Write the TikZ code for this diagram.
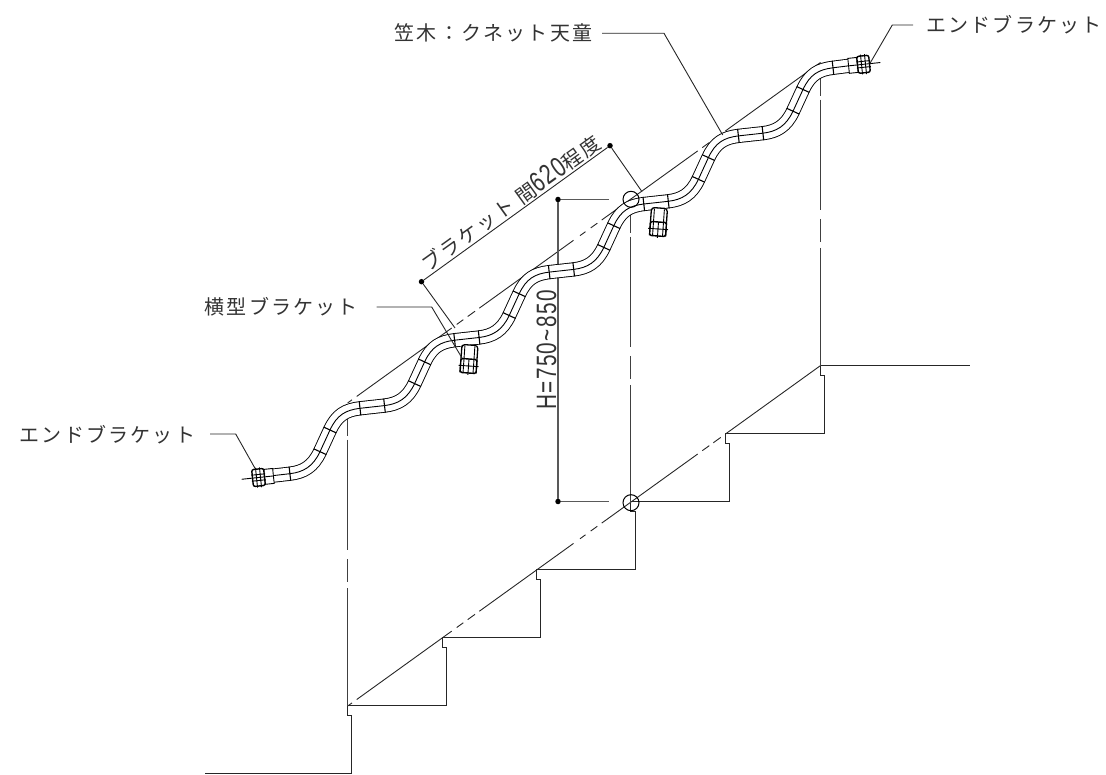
\documentclass[tikz,border=0pt]{standalone}
\usepackage{fontspec}
\setmainfont[LetterSpace=11]{Noto Sans CJK JP}
\newfontfamily\latnarrow[FakeStretch=0.74,LetterSpace=5]{Liberation Sans}
\newcommand{\nar}[1]{{\fontsize{28}{28}\selectfont\latnarrow #1}}
\newcommand{\Pq}[2]{({265.4+94.6*\i+#1},{476.4-68.1*\i+#2})}
\tikzset{
  edge line/.style={line width=1.2pt,black!85,line join=miter},
  thin line/.style={line width=0.9pt,black!85},
  dim line/.style={line width=1.1pt,black!65},
  lab/.style={font=\fontsize{20}{20}\selectfont,inner sep=0pt,black!80},
  dimdot/.style={circle,fill=black,inner sep=0pt,minimum size=5.5pt},
  ring/.style={circle,draw=black,line width=1pt,inner sep=0pt,minimum size=16pt},
  endbkt/.pic={
    \draw[line width=0.9pt,fill=white] (6,-7.5) rectangle (15,7.5);
    \draw[line width=1.4pt,rounded corners=2pt,fill=white] (-6,-8.5) rectangle (6,8.5);
    \draw[line width=0.9pt] (-2,-10) -- (-2,10) (2,-10) -- (2,10) (-7,-3) -- (7,-3) (-7,3) -- (7,3);
    \draw[line width=0.9pt] (-17,0) -- (15,0);
  },
  hanger/.pic={
    \draw[line width=1.3pt,rounded corners=3pt,fill=white] (-8,14) -- (-8,-14) -- (8,-14) -- (8,14);
    \draw[line width=0.9pt] (-5,-13) -- (-5,14) (5,-13) -- (5,14);
    \draw[line width=1.4pt,rounded corners=1.5pt,fill=white] (-8,0) rectangle (8,14);
    \draw[line width=0.9pt] (0,0) -- (0,16) (-10,7) -- (10,7) (-5,0) -- (-5,14) (5,0) -- (5,14);
  }
}
\begin{document}
\begin{tikzpicture}[x=1pt,y=-1pt]
\useasboundingbox (0,0) rectangle (1106,775);
% stairs
\draw[edge line] (205,773.5) -- (351.5,773.5) -- (351.5,715.5) -- (347.5,715.5) -- (347.5,705.5)
  -- (446.5,705.5) -- (446.5,647.5) -- (442.5,647.5) -- (442.5,637.5)
  -- (540.5,637.5) -- (540.5,579.5) -- (536.5,579.5) -- (536.5,569.5)
  -- (635.5,569.5) -- (635.5,511.5) -- (630.5,511.5) -- (630.5,501.5)
  -- (729.5,501.5) -- (729.5,443.5) -- (725.5,443.5) -- (725.5,433.5)
  -- (824.5,433.5) -- (824.5,375.5) -- (820.5,375.5) -- (820.5,365.5) -- (970,365.5);
% nosing line and handrail line, broken by gaps
\foreach \a/\b in {347.7/352,356.7/451.7,456.7/463.3,467.7/475,479.3/573.5,580/585.5,590.7/597.3,601.7/697.7,702.3/709.3,713.3/720.7,725.3/820.5}{
  \draw[thin line] ({\a},{706-0.72*(\a-347.7)}) -- ({\b},{706-0.72*(\b-347.7)});
  \draw[thin line] ({\a},{402.9-0.72*(\a-347.7)}) -- ({\b},{402.9-0.72*(\b-347.7)});
}
% posts (chain lines)
\foreach \x/\o in {347.5/0,630.5/-203,820.5/-340}{
  \foreach \a/\b in {410/436,439.7/549.7,559/582,588/706}{
    \draw[line width=1pt,black!75] (\x,{\a+\o}) -- (\x,{\b+\o});
  }
}
% height dimension
\node[dimdot] (htop) at (558,199.5) {};
\node[dimdot] (hbot) at (558,501.5) {};
\coordinate (htopend) at (609,199.5);
\coordinate (hbotend) at (609,501.5);
\draw[dim line] (htopend) -- (htop) -- (hbot) -- (hbotend);
% rail
\foreach \w/\c in {14.2/black,12.4/white,0.9/black}{
  \draw[line width=\w pt,color=\c,line join=round] (262,476.9)
    foreach \i in {0,...,5}{
      -- \Pq{24.5}{-2.7} .. controls \Pq{38}{-4.3} and \Pq{47.6}{-9.7} .. \Pq{54.6}{-24.7}
      -- \Pq{64.6}{-46.4} .. controls \Pq{71.6}{-61.6} and \Pq{80.5}{-66.4} .. \Pq{94.6}{-68.1}
    } -- (855,65);
}
% rail cross ticks
\foreach \i in {0,...,5}{
  \draw[line width=1.1pt] \Pq{24.5-0.8}{-2.7-7} -- \Pq{24.5+0.8}{-2.7+7};
  \draw[line width=1.1pt] \Pq{54.6-6.3}{-24.7-2.9} -- \Pq{54.6+6.3}{-24.7+2.9};
  \draw[line width=1.1pt] \Pq{64.6-6.3}{-46.4-2.9} -- \Pq{64.6+6.3}{-46.4+2.9};
  \draw[line width=1.1pt] \Pq{94.6-0.8}{-68.1-7} -- \Pq{94.6+0.8}{-68.1+7};
}
% brackets
\pic at (258.5,477.5) [rotate=6] {endbkt};
\pic at (863.5,64.3) [rotate=6,xscale=-1] {endbkt};
\pic at (469,359) [rotate=-4] {hanger};
\pic at (658.5,222) [rotate=-4] {hanger};
% rings
\node[ring] (ringtop) at (631,199.3) {};
\node[ring] (ringbot) at (631,502.7) {};
% span dimension
\node[dimdot] (sa) at (421.5,281.7) {};
\node[dimdot] (sb) at (610,145.7) {};
\coordinate (saend) at (455,328);
\coordinate (sbend) at (642,191.7);
\draw[thin line] (saend) -- (sa) -- (sb) -- (sbend);
% labels
\node[lab,anchor=west] (l1) at (394.5,33) {笠木：クネット天童};
\node[lab,anchor=west] (l2) at (926,25) {エンドブラケット};
\node[lab,anchor=west] (l3) at (204.5,306.5) {横型ブラケット};
\node[lab,anchor=west] (l4) at (19.5,435) {エンドブラケット};
\node[lab,rotate=35.7] (l5) at (510.5,202.5) {ブラケット 間\nar{620}程度};
\node[lab,rotate=90] (l6) at (546.5,350) {\nar{H=750\textasciitilde 850}};
% leaders
\coordinate (k1) at (664,33.3); \coordinate (e1) at (722.7,135); \coordinate (s1) at (602,33.3);
\coordinate (k2) at (892.3,25); \coordinate (e2) at (870,63.3); \coordinate (s2) at (913,25);
\coordinate (k3) at (431.7,307); \coordinate (e3) at (462,358); \coordinate (s3) at (376.7,307);
\coordinate (k4) at (235.7,434); \coordinate (e4) at (255,468.3); \coordinate (s4) at (210,434);
\draw[thin line] (s1) -- (k1) -- (e1);
\draw[thin line] (s2) -- (k2) -- (e2);
\draw[thin line] (s3) -- (k3) -- (e3);
\draw[thin line] (s4) -- (k4) -- (e4);
\end{tikzpicture}
\end{document}
